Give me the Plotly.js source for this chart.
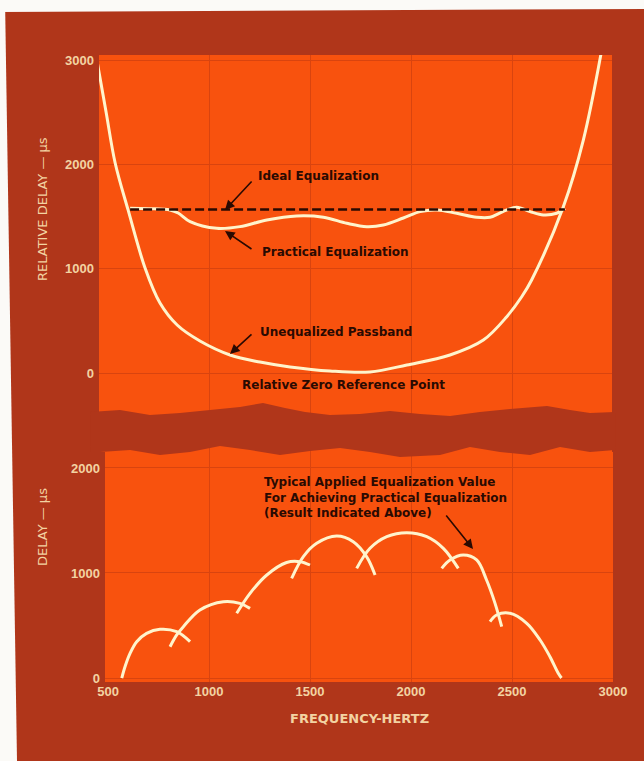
<!DOCTYPE html>
<html>
<head>
<meta charset="utf-8">
<script src="https://cdn.plot.ly/plotly-3.0.1.min.js"></script>
<style>html,body{margin:0;padding:0;background:#fff;}#chart{width:644px;height:761px;}</style>
</head>
<body>
<div id="chart"></div>
<script>
// ---- Data ----
// Upper panel: unequalized passband delay (µs) vs frequency (Hz)
const freqUnequalized = [446,490,535,599,683,757,842,955,1104,1252,1401,1599,1797,1979,2193,2358,2474,2548,2597,2754,2853,2944];
const delayUnequalized = [2982,2502,2013,1563,1007,671,460,307,173,105,58,19,10,77,173,316,540,731,892,1594,2233,3096];
// Upper panel: practical equalization
const freqPractical = [609,700,807,847,906,1038,1153,1286,1434,1566,1682,1781,1863,1962,2045,2127,2226,2325,2391,2455,2523,2589,2655,2721,2762];
const delayPractical = [1579,1575,1563,1534,1451,1387,1403,1467,1505,1493,1435,1403,1419,1486,1547,1563,1531,1493,1493,1547,1588,1547,1515,1531,1579];
// Upper panel: ideal equalization (flat)
const freqIdeal = [609,2762];
const delayIdeal = [1568,1568];
// Lower panel: typical applied equalization sections (overlapping arcs)
const arcFreqs = [
  [568,584,609,642,691,757,840,906],
  [807,840,873,955,1071,1153,1203],
  [1137,1203,1286,1384,1450,1500],
  [1409,1467,1533,1632,1714,1780,1822],
  [1731,1797,1880,1979,2078,2160,2234],
  [2152,2193,2259,2325,2374,2416,2449],
  [2391,2424,2490,2573,2639,2688,2729,2745]
];
const arcDelays = [
  [0,108,235,346,425,464,441,346],
  [298,410,489,648,727,711,663],
  [616,806,981,1100,1108,1076],
  [949,1156,1283,1352,1298,1156,981],
  [1044,1235,1346,1384,1346,1235,1044],
  [1044,1124,1171,1124,933,711,489],
  [537,600,616,521,362,203,45,0]
];
// Tick labels
const xTickVals = [500,1000,1500,2000,2500,3000];
const xTickText = ['500','1000','1500','2000','2500','3000'];
const xGridVals = [1000,1500,2000,2500];
const yTopTickVals = [0,1000,2000,3000];
const yTopTickText = ['0','1000','2000','3000'];
const yBotTickVals = [0,1000,2000];
const yBotTickText = ['0','1000','2000'];

// ---- Styling ----
const W = 644, H = 761;
const px = x => x / W;
const py = y => 1 - y / H;
const DARK = '#B0361A';
const ORANGE = '#F8520E';
const GRID = '#D9440F';
const CREAM = '#FFF4CC';
const LABEL = '#F3D3A2';
const INK = '#2A0A02';
const FONT = 'Liberation Sans, Arial, sans-serif';
const NOTE_FONT = 'DejaVu Sans, Liberation Sans, sans-serif';

const traces = [];
traces.push({x: freqUnequalized, y: delayUnequalized, xaxis:'x', yaxis:'y', mode:'lines',
  line:{color:CREAM, width:3, shape:'spline', smoothing:1}, hoverinfo:'skip'});
traces.push({x: freqPractical, y: delayPractical, xaxis:'x', yaxis:'y', mode:'lines',
  line:{color:CREAM, width:3, shape:'spline', smoothing:1}, hoverinfo:'skip'});
traces.push({x: freqIdeal, y: delayIdeal, xaxis:'x', yaxis:'y', mode:'lines',
  line:{color:INK, width:2.5, dash:'9px,4px'}, hoverinfo:'skip'});
for (let i = 0; i < arcFreqs.length; i++) {
  traces.push({x: arcFreqs[i], y: arcDelays[i], xaxis:'x2', yaxis:'y2', mode:'lines',
    line:{color:CREAM, width:3, shape:'spline', smoothing:1}, hoverinfo:'skip'});
}

// torn band between the two panels (decoration)
const bandTop = [[90,412],[120,410],[150,415],[180,413],[210,410],[240,407],[263,403],[285,408],[305,412],[330,415],[360,414],[390,411],[420,414],[450,416],[480,412],[510,409],[547,406],[570,410],[590,413],[615,412]];
const bandBot = [[615,450],[590,452],[560,447],[530,455],[500,452],[470,447],[440,455],[400,457],[370,452],[340,448],[310,451],[280,455],[250,450],[220,446],[190,452],[160,455],[130,450],[100,452],[90,452]];
const pathFrom = pts => 'M' + pts.map(p => px(p[0]).toFixed(4) + ',' + py(p[1]).toFixed(4)).join(' L') + ' Z';

const shapes = [
  {type:'path', xref:'paper', yref:'paper', path: pathFrom(bandTop.concat(bandBot)), fillcolor:DARK, line:{width:0}, layer:'above'},
  {type:'path', xref:'paper', yref:'paper', path: pathFrom([[0,0],[644,0],[644,9],[0,12]]), fillcolor:'#FBFAF7', line:{width:0}, layer:'above'},
  {type:'path', xref:'paper', yref:'paper', path: pathFrom([[0,0],[5,0],[17,761],[0,761]]), fillcolor:'#FBFAF7', line:{width:0}, layer:'above'}
];

const txt = (x, y, text, opts) => Object.assign({xref:'paper', yref:'paper', x:px(x), y:py(y), text:text,
  xanchor:'center', yanchor:'middle',
  showarrow:false, font:{family:NOTE_FONT, size:12, color:INK}}, opts || {});
const arrow = (tx, ty, ax, ay) => ({xref:'paper', yref:'paper', x:px(tx), y:py(ty), ax:ax, ay:ay, text:'',
  showarrow:true, arrowhead:2, arrowsize:1.2, arrowwidth:1.6, arrowcolor:INK, standoff:0});

const annotations = [
  txt(318, 176, '<b>Ideal Equalization</b>'),
  txt(335, 252, '<b>Practical Equalization</b>'),
  txt(336, 332, '<b>Unequalized Passband</b>'),
  txt(343, 385, '<b>Relative Zero Reference Point</b>'),
  txt(262, 497, '<b>Typical Applied Equalization Value<br>For Achieving Practical Equalization<br>(Result Indicated Above)</b>',
      {xanchor:'left', align:'left'}),
  arrow(225, 210, 28, -30),
  arrow(225, 231, 28, 19),
  arrow(230, 354, 23, -21),
  arrow(473, 549, -28, -35),
  txt(42, 209, 'RELATIVE DELAY — µs', {textangle:-90, font:{family:NOTE_FONT, size:13, color:LABEL}}),
  txt(42, 527, 'DELAY — µs', {textangle:-90, font:{family:NOTE_FONT, size:13, color:LABEL}}),
  txt(360, 718, '<b>FREQUENCY-HERTZ</b>', {font:{family:NOTE_FONT, size:13, color:LABEL}})
];

const axisCommon = {showline:false, zeroline:false, ticks:'', fixedrange:true, gridcolor:GRID, gridwidth:1,
  tickfont:{family:FONT, size:13, color:LABEL, weight:'bold'}};

const layout = {
  width:W, height:H, margin:{l:0, r:0, t:0, b:0},
  paper_bgcolor:DARK, plot_bgcolor:ORANGE, showlegend:false,
  xaxis: Object.assign({}, axisCommon, {domain:[px(99), px(612)], range:[455, 2995], anchor:'y',
    showticklabels:false, showgrid:false, tickmode:'array', tickvals:xTickVals,
    minor:{tickmode:'array', tickvals:xGridVals, showgrid:true, gridcolor:GRID, gridwidth:1, ticks:''}}),
  yaxis: Object.assign({}, axisCommon, {domain:[py(452), py(55)], range:[-757, 3048], anchor:'x',
    tickmode:'array', tickvals:yTopTickVals, ticktext:yTopTickText, showgrid:true, ticklabelstandoff:4}),
  xaxis2: Object.assign({}, axisCommon, {domain:[px(105), px(613)], range:[485, 3000], anchor:'y2',
    tickmode:'array', tickvals:xTickVals, ticktext:xTickText, showgrid:false,
    minor:{tickmode:'array', tickvals:xGridVals, showgrid:true, gridcolor:GRID, gridwidth:1, ticks:''}}),
  yaxis2: Object.assign({}, axisCommon, {domain:[py(682), py(452)], range:[-38, 2152], anchor:'x2',
    tickmode:'array', tickvals:yBotTickVals, ticktext:yBotTickText, showgrid:true, ticklabelstandoff:4}),
  shapes: shapes,
  annotations: annotations
};

Plotly.newPlot('chart', traces, layout, {staticPlot:true, displayModeBar:false});
</script>
</body>
</html>
